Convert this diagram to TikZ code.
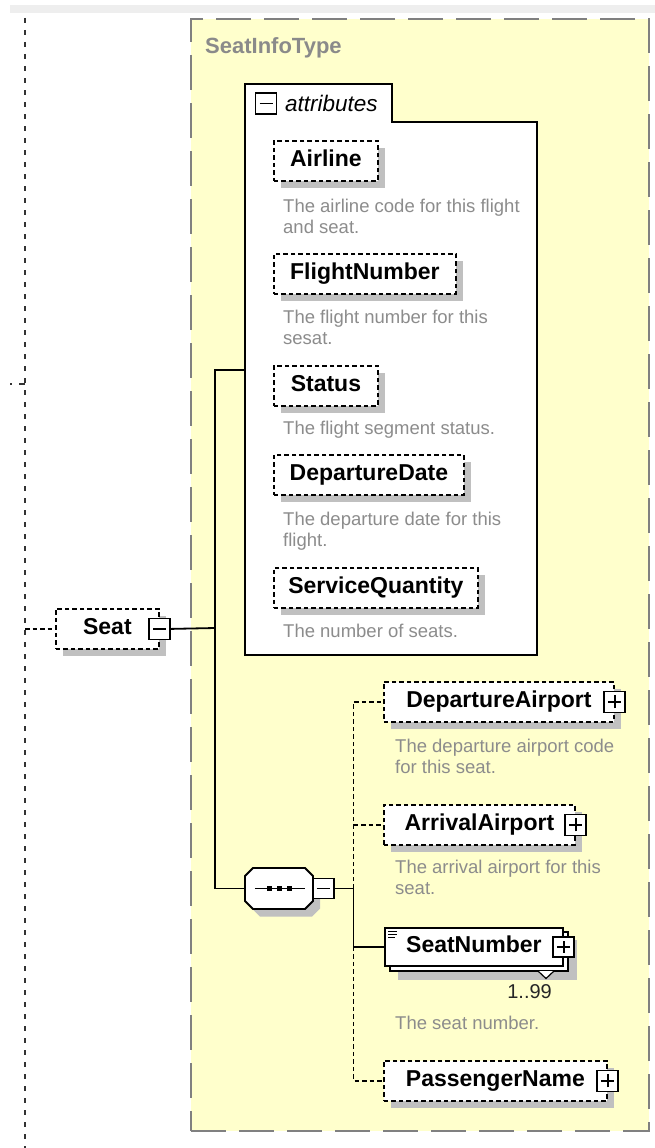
\documentclass[tikz,border=0pt]{standalone}
\usepackage{fontspec}
\setmainfont{Liberation Sans}
\usetikzlibrary{shadows,calc}
\definecolor{ctfill}{RGB}{255,255,204}
\definecolor{ctborder}{RGB}{128,128,128}
\definecolor{shadowgray}{RGB}{192,192,192}
\definecolor{desccol}{RGB}{140,140,140}
\definecolor{bargray}{RGB}{238,238,238}
\definecolor{typecol}{RGB}{138,138,138}
\newcommand{\dlines}[1]{\begin{tabular}[t]{@{}l@{}}#1\end{tabular}}
\begin{document}
\begin{tikzpicture}[x=1pt,y=-1pt,
  elembase/.style={draw, fill=white, line width=1.8pt, dash pattern=on 4.5pt off 3pt,
    minimum height=40pt, inner sep=0pt, anchor=north west, text height=17pt, text depth=5pt,
    font=\fontsize{23}{27}\selectfont\bfseries},
  elem/.style={elembase, drop shadow={shadow xshift=7pt, shadow yshift=-7pt, fill=shadowgray, opacity=1}},
  desc/.style={anchor=base west, inner sep=0pt, text=desccol, font=\fontsize{18.5}{21}\selectfont},
  btn/.style={draw, fill=white, line width=1.8pt, solid, minimum width=21pt, minimum height=21pt, inner sep=0pt},
  minusbtn/.style={btn, path picture={\draw[line width=1.6pt] ([xshift=4pt]path picture bounding box.west) -- ([xshift=-4pt]path picture bounding box.east);}},
  plusbtn/.style={btn, path picture={\draw[line width=1.6pt] ([xshift=4pt]path picture bounding box.west) -- ([xshift=-4pt]path picture bounding box.east);
     \draw[line width=1.6pt] ([yshift=4pt]path picture bounding box.south) -- ([yshift=-4pt]path picture bounding box.north);}},
  ctype/.style={draw=ctborder, fill=ctfill, line width=2pt, dash pattern=on 35pt off 13pt,
    minimum width=458pt, minimum height=1112pt, anchor=north west, inner sep=0pt},
  conn/.style={line width=1.8pt},
  dconn/.style={conn, dash pattern=on 4.5pt off 3pt},
  lconn/.style={line width=2.2pt, black!80, dash pattern=on 5pt off 7pt}
]
\useasboundingbox (0,0) rectangle (655,1148);
% top bar
\fill[bargray] (10,5) rectangle (655,13);
% left parent line
\coordinate (ltop) at (25,18);
\coordinate (lbot) at (25,1148);
\draw[lconn] (ltop) -- (lbot);
\coordinate (lstub) at (10,384);
\draw[line width=2.2pt, black!80, dash pattern=on 2pt off 7pt on 8pt off 0pt] (lstub) -- (lstub -| ltop);

% complex type box
\node[ctype] (ctbox) at (190,18) {};
\node[anchor=base west, inner sep=0pt, text=typecol, font=\fontsize{22}{26}\selectfont\bfseries] (ctname) at (205,53) {SeatInfoType};

% attributes container
\draw[line width=2pt, fill=white] (245,655) -- (245,84) -- (392,84) -- (392,122) -- (537,122) -- (537,655) -- cycle;
\node[minusbtn] (attrbtn) at (266,103.5) {};
\node[anchor=base west, inner sep=0pt, font=\fontsize{22.5}{26}\selectfont\itshape] (attrlabel) at (285,111) {attributes};
\coordinate (attrin) at (245,370);

% attributes
\node[elem, minimum width=104pt] (airline) at (273,140) {Airline};
\node[desc] (airlined) at (283,212) {\dlines{The airline code for this flight\\and seat.}};
\node[elem, minimum width=182pt] (flightno) at (273,253) {FlightNumber};
\node[desc] (flightnod) at (283,323) {\dlines{The flight number for this\\sesat.}};
\node[elem, minimum width=104pt] (status) at (273,365) {Status};
\node[desc] (statusd) at (283,434) {The flight segment status.};
\node[elem, minimum width=190pt] (depdate) at (273,454) {DepartureDate};
\node[desc] (depdated) at (283,525) {\dlines{The departure date for this\\flight.}};
\node[elem, minimum width=204pt] (svcqty) at (273,567) {ServiceQuantity};
\node[desc] (svcqtyd) at (283,637) {The number of seats.};

% Seat element
\node[elem, minimum width=103pt] (seat) at (55,608) {Seat};
\node[minusbtn] (seatbtn) at (seat.east) {};

% sequence compositor (octagon drawn directly, node carries the name)
\fill[shadowgray] (260,875.5) -- (312,875.5) -- (320,883.5) -- (320,908.5) -- (312,916.5) -- (260,916.5) -- (252,908.5) -- (252,883.5) -- cycle;
\draw[line width=1.8pt, fill=white] (253,868) -- (305,868) -- (313,876) -- (313,901) -- (305,909) -- (253,909) -- (245,901) -- (245,876) -- cycle;
\node[minimum width=68pt, minimum height=41pt, inner sep=0pt] (seq) at (279,888.5) {};
\draw[line width=1.6pt] ([xshift=10pt]seq.west) -- ([xshift=-8pt]seq.east);
\fill (266.5,886) rectangle (271.5,891);
\fill (276.5,886) rectangle (281.5,891);
\fill (286.5,886) rectangle (291.5,891);
\node[minusbtn, minimum height=20pt] (seqbtn) at ([xshift=10pt]seq.east) {};

% children
\node[elem, minimum width=230pt] (depair) at (383,681) {DepartureAirport};
\node[plusbtn] (depairbtn) at (depair.east) {};
\node[desc] (depaird) at (395,752) {\dlines{The departure airport code\\for this seat.}};

\node[elem, minimum width=191pt] (arrair) at (383,804) {ArrivalAirport};
\node[plusbtn] (arrairbtn) at (arrair.east) {};
\node[desc] (arraird) at (395,873) {\dlines{The arrival airport for this\\seat.}};

% SeatNumber (repeated element)
\fill[shadowgray] (398,940) rectangle (577,980);
\draw[line width=1.8pt, fill=white] (390,932) rectangle (568,971);
\node[elembase, solid, minimum width=178pt, minimum height=38pt] (seatnum) at (384,927) {SeatNumber};
\node[plusbtn, minimum height=20pt] (seatnumbtn) at (seatnum.east) {};
\draw[line width=1pt] (388,931) -- (397,931) (388,934) -- (397,934) (388,937) -- (395,937);
\draw[line width=1.2pt, fill=white] (538,971) -- (546,978.5) -- (554,971);
\node[anchor=base east, inner sep=0pt, text=black!85, font=\fontsize{20}{24}\selectfont] (card) at (552,998) {1..99};
\node[desc] (seatnumd) at (395,1029) {The seat number.};

\node[elem, minimum width=223pt] (pasname) at (383,1060) {PassengerName};
\node[plusbtn] (pasnamebtn) at (pasname.east) {};

% connectors
\coordinate (trunk) at (215,628);
\draw[dconn] (seat.west -| lbot) -- (seat.west);
\draw[conn] (seatbtn.east) -- (trunk);
\draw[conn] (attrin) -| (trunk) |- (seq.west);
\coordinate (strunk) at (353.5,888.5);
\draw[conn] (seqbtn.east) -- (strunk);
\draw[dconn] (strunk) |- (depair.west);
\draw[dconn] (strunk |- arrair.west) -- (arrair.west);
\draw[conn] (strunk) |- (seatnum.west);
\draw[dconn] (strunk |- seatnum.west) |- (pasname.west);
\end{tikzpicture}
\end{document}
